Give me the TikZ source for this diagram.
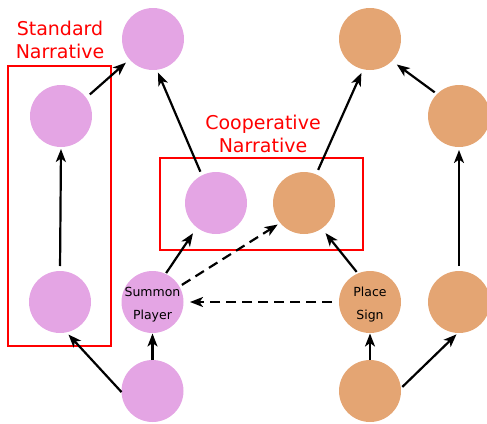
\documentclass[tikz,border=0pt]{standalone}
\usepackage{fontspec}
\setmainfont{DejaVu Sans}
\usetikzlibrary{arrows.meta}
\definecolor{pinkc}{HTML}{E4A5E4}
\definecolor{orangec}{HTML}{E4A573}
\definecolor{redc}{HTML}{FF0000}
\begin{document}
\begin{tikzpicture}[x=1pt,y=-1pt,
  circ/.style={circle,minimum size=62pt,inner sep=0pt,outer sep=0pt},
  pnode/.style={circ,fill=pinkc},
  onode/.style={circ,fill=orangec},
  inlabel/.style={label={[align=center,yshift=-3pt,font=\fontsize{12.5}{23}\selectfont]center:#1}},
  edge/.style={line width=2.2pt,-{Stealth[length=13pt,width=10pt,inset=3.5pt]}},
  dedge/.style={edge,dash pattern=on 10pt off 6pt},
  groupbox/.style={draw=redc,line width=2.2pt,inner sep=0pt},
  grouplabel/.style={text=redc,align=center,font=\fontsize{19}{23}\selectfont}]
\useasboundingbox (0,0) rectangle (487,423);
% groups
\node[groupbox,minimum width=103pt,minimum height=280pt] (stdbox) at (59.5,206) {};
\node[groupbox,minimum width=203pt,minimum height=92pt] (coopbox) at (261.5,204) {};
\node[grouplabel] (stdlab) at (60,39.5) {Standard\\Narrative};
\node[grouplabel] (cooplab) at (263,134) {Cooperative\\Narrative};
% pink nodes
\node[pnode] (ptop) at (153,39) {};
\node[pnode] (pul) at (61,116) {};
\node[pnode] (pll) at (60,302) {};
\node[pnode] (pcoop) at (216,203) {};
\node[pnode,inlabel={Summon\\Player}] (summon) at (152.5,302) {};
\node[pnode] (pbot) at (152.5,391) {};
% orange nodes
\node[onode] (otop) at (370,39) {};
\node[onode] (our) at (459,116) {};
\node[onode] (olr) at (459,302) {};
\node[onode] (ocoop) at (304,203) {};
\node[onode,inlabel={Place\\Sign}] (place) at (370,302) {};
\node[onode] (obot) at (370,391) {};
% edges
\draw[edge,shorten <=5pt,shorten >=2pt] (pll.90) -- (pul.-90);
\draw[edge,shorten <=5pt,shorten >=3pt] (olr.90) -- (our.-90);
\draw[edge,shorten <=0pt,shorten >=0.5pt] (pbot.90) -- (summon.-90);
\draw[edge,shorten <=0pt,shorten >=0.5pt] (obot.90) -- (place.-90);
\draw[edge,shorten <=0pt,shorten >=3pt] (pbot.182) -- (pll.-78);
\draw[edge,shorten <=2pt,shorten >=2pt] (obot.5) -- (olr.-92);
\draw[edge,shorten <=5pt,shorten >=5pt] (pul.36) -- (ptop.221.6);
\draw[edge,shorten <=4pt,shorten >=3pt] (pcoop.117) -- (ptop.-83);
\draw[edge,shorten <=5pt,shorten >=4pt] (ocoop.67) -- (otop.-103);
\draw[edge,shorten <=3pt,shorten >=6pt] (our.135) -- (otop.-45);
\draw[edge,shorten <=1pt,shorten >=7pt] (summon.65) -- (pcoop.232.5);
\draw[dedge,shorten <=3pt,shorten >=3pt] (summon.30) -- (ocoop.220);
\draw[edge,shorten <=2pt,shorten >=6pt] (place.113) -- (ocoop.-55);
\draw[dedge,shorten <=7pt,shorten >=6.5pt] (place.180) -- (summon.0);
\end{tikzpicture}
\end{document}
